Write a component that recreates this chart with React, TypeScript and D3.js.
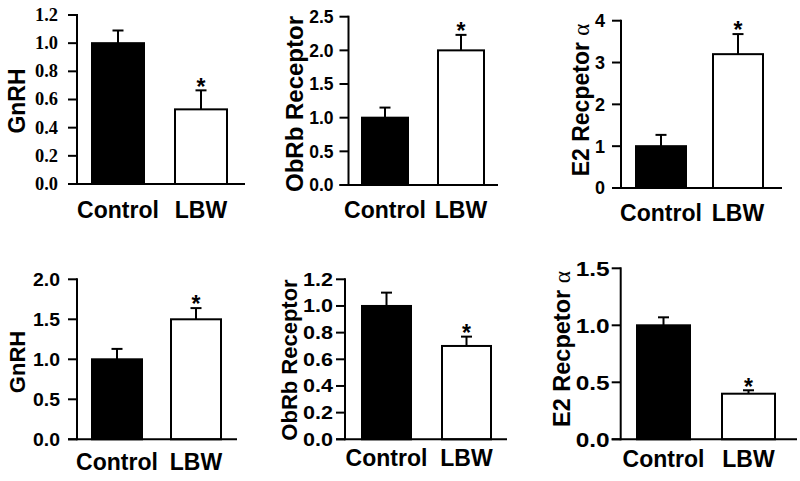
import React from "react";
import * as d3 from "d3";

// ---- data ----
const categories = ["Control", "LBW"];
const yLabels = ["GnRH", "ObRb Receptor", "E2 Recpetor ", "GnRH", "ObRb Receptor", "E2 Recpetor "];
const yLabelSuffix = ["", "", "α", "", "", "α"];
const means = [
  [1.0, 0.53],
  [1.0, 2.0],
  [1.0, 3.2],
  [1.0, 1.5],
  [1.0, 0.7],
  [1.0, 0.4],
];
const errors = [
  [0.09, 0.135],
  [0.15, 0.23],
  [0.27, 0.48],
  [0.13, 0.14],
  [0.1, 0.07],
  [0.07, 0.03],
];
const significant = [
  [false, true],
  [false, true],
  [false, true],
  [false, true],
  [false, true],
  [false, true],
];
const yMax = [1.2, 2.5, 4, 2.0, 1.2, 1.5];
const yStep = [0.2, 0.5, 1, 0.5, 0.2, 0.5];
const tickDecimals = [1, 1, 0, 1, 1, 1];

// ---- layout (pixels) ----
const layouts = [
  { ax: 77, xEnd: 245, y0: 184, y1: 15, barL: 92, barR: 227, barW: 52, lblX: 25, lblY: 101, lblFs: 23, tickGap: 19, tickFs: 18, tickW: 23, catY: 218, serifTicks: true },
  { ax: 348.5, xEnd: 498, y0: 185, y1: 16.7, barL: 362, barR: 484, barW: 46, lblX: 303, lblY: 104, lblFs: 24, tickGap: 15, tickFs: 17.5, tickW: 0, catY: 218, serifTicks: false },
  { ax: 621, xEnd: 782, y0: 188, y1: 20.7, barL: 636, barR: 763, barW: 50, lblX: 589, lblY: 100, lblFs: 23, tickGap: 16, tickFs: 18, tickW: 0, catY: 221, serifTicks: false },
  { ax: 77, xEnd: 237, y0: 439.3, y1: 279.3, barL: 92, barR: 221, barW: 50, lblX: 25, lblY: 362, lblFs: 22, tickGap: 17, tickFs: 19, tickW: 27, catY: 470, serifTicks: false },
  { ax: 345, xEnd: 507, y0: 439.3, y1: 279.3, barL: 362, barR: 491, barW: 49, lblX: 297, lblY: 360, lblFs: 22, tickGap: 12, tickFs: 18, tickW: 30, catY: 466, serifTicks: false },
  { ax: 620.7, xEnd: 797, y0: 439.3, y1: 268.3, barL: 637, barR: 775, barW: 53, lblX: 570, lblY: 349, lblFs: 23.5, tickGap: 11, tickFs: 20, tickW: 34, catY: 467, serifTicks: false },
];

const SANS = "'Liberation Sans', Arial, sans-serif";
const SERIF = "'Liberation Serif', 'Times New Roman', serif";
const TICK_LEN = 9;
const SW = 2;
const CAT_FS = 23;

function Panel({ i }: { i: number }) {
  const L = layouts[i];
  const y = d3.scaleLinear().domain([0, yMax[i]]).range([L.y0, L.y1]);
  const step = L.barR - L.barL - L.barW;
  const pi = 1 - L.barW / step;
  const x = d3.scaleBand<string>().domain(categories).range([L.barL, L.barR]).paddingInner(pi).paddingOuter(0);
  const ticks = d3.range(0, yMax[i] + yStep[i] / 2, yStep[i]);
  const fmt = d3.format(`.${tickDecimals[i]}f`);
  const capW = 11;
  return (
    <g>
      {categories.map((c, j) => {
        const bx = x(c)!;
        const bw = x.bandwidth();
        const top = y(means[i][j]);
        const eTop = y(means[i][j] + errors[i][j]);
        const cx = bx + bw / 2;
        return (
          <g key={c}>
            <line x1={cx} x2={cx} y1={top} y2={eTop} stroke="#000" strokeWidth={SW} />
            <line x1={cx - capW / 2} x2={cx + capW / 2} y1={eTop} y2={eTop} stroke="#000" strokeWidth={SW} />
            <rect
              x={bx}
              y={top}
              width={bw}
              height={L.y0 - top}
              fill={j === 0 ? "#000" : "#fff"}
              stroke="#000"
              strokeWidth={SW}
            />
            {significant[i][j] && (
              <text x={cx} y={eTop - 9 + 0.58 * 23} fontFamily={SANS} fontWeight="bold" fontSize={23} textAnchor="middle">
                *
              </text>
            )}
            <text x={cx} y={L.catY} fontFamily={SANS} fontWeight="bold" fontSize={CAT_FS} textAnchor="middle">
              {c}
            </text>
          </g>
        );
      })}
      <line x1={L.ax} x2={L.ax} y1={L.y0 + SW / 2} y2={L.y1 - 1} stroke="#000" strokeWidth={SW} />
      {ticks.map((t) => (
        <g key={t}>
          <line x1={L.ax - TICK_LEN} x2={L.ax} y1={y(t)} y2={y(t)} stroke="#000" strokeWidth={SW} />
          <text
            x={L.ax - L.tickGap}
            y={y(t)}
            dy={L.serifTicks ? "0.33em" : "0.36em"}
            fontFamily={L.serifTicks ? SERIF : SANS}
            fontWeight="bold"
            fontSize={L.tickFs}
            textAnchor="end"
            {...(L.tickW ? { textLength: L.tickW, lengthAdjust: "spacingAndGlyphs" } : {})}
          >
            {fmt(t)}
          </text>
        </g>
      ))}
      <line x1={L.ax - TICK_LEN} x2={L.xEnd} y1={L.y0} y2={L.y0} stroke="#000" strokeWidth={SW} />
      <text
        transform={`translate(${L.lblX},${L.lblY}) rotate(-90)`}
        fontFamily={SANS}
        fontWeight="bold"
        fontSize={L.lblFs}
        textAnchor="middle"
      >
        {yLabels[i]}
        {yLabelSuffix[i] && (
          <tspan fontFamily={SERIF} fontWeight="normal">
            {yLabelSuffix[i]}
          </tspan>
        )}
      </text>
    </g>
  );
}

export default function App() {
  return (
    <svg width={800} height={481} style={{ position: "absolute", left: 0, top: 0, background: "#fff" }}>
      <rect width={800} height={481} fill="#fff" />
      {layouts.map((_, i) => (
        <Panel key={i} i={i} />
      ))}
    </svg>
  );
}
